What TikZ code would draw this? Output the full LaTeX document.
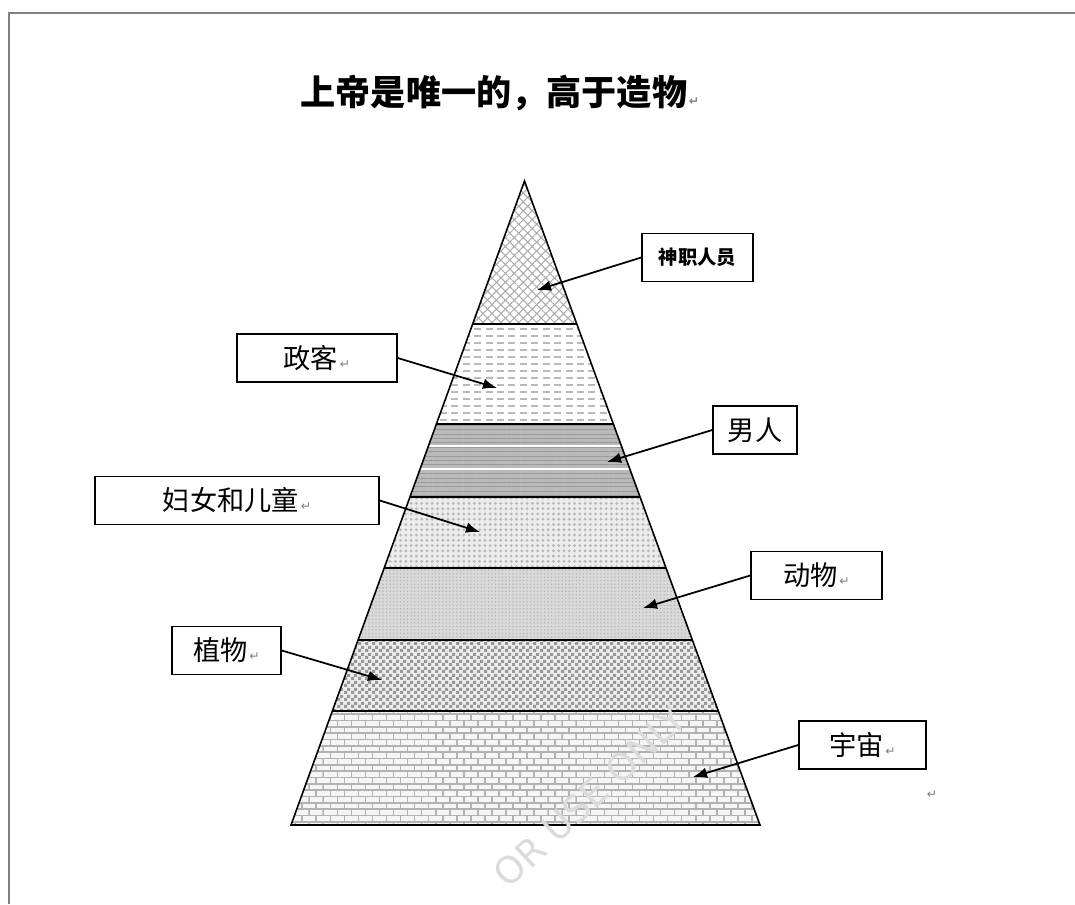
\documentclass[tikz,border=0pt]{standalone}
\usepackage{fontspec}
\usepackage{tikz}
\usetikzlibrary{patterns,patterns.meta,arrows.meta}

\newfontfamily\cjk{Noto Sans CJK SC}
\newfontfamily\symfont{DejaVu Sans}
\newcommand{\rmk}{{\symfont\fontsize{7}{7}\selectfont\color{gray}↵}}

\pgfdeclarepatternformonly{smallchecks}{\pgfpointorigin}{\pgfpoint{4pt}{4pt}}{\pgfpoint{4pt}{4pt}}{
    \pgfpathrectangle{\pgfpointorigin}{\pgfpoint{2pt}{2pt}}
    \pgfpathrectangle{\pgfpoint{2pt}{2pt}}{\pgfpoint{2pt}{2pt}}
    \pgfusepath{fill}
}

\pgfdeclarepatternformonly{smallbricks}{\pgfpoint{-0.5pt}{-0.5pt}}{\pgfpoint{8.5pt}{7.7pt}}{\pgfpoint{8pt}{7.2pt}}{
    \pgfsetlinewidth{0.9pt}
    \pgfpathmoveto{\pgfpoint{0pt}{0pt}}\pgfpathlineto{\pgfpoint{8pt}{0pt}}
    \pgfpathmoveto{\pgfpoint{0pt}{3.6pt}}\pgfpathlineto{\pgfpoint{8pt}{3.6pt}}
    \pgfpathmoveto{\pgfpoint{0pt}{0pt}}\pgfpathlineto{\pgfpoint{0pt}{3.6pt}}
    \pgfpathmoveto{\pgfpoint{4pt}{3.6pt}}\pgfpathlineto{\pgfpoint{4pt}{7.2pt}}
    \pgfusepath{stroke}
}

\tikzset{
    lbl/.style={draw, line width=0.9pt, minimum height=0.96cm, inner sep=0pt, font=\cjk\fontsize{15.5}{15.5}\selectfont},
    ptr/.style={-{Latex[length=8pt,width=6pt]}, line width=1pt},
    divide/.style={line width=1pt}
}

\begin{document}
\begin{tikzpicture}[x=0.02cm, y=-0.02cm]

        \useasboundingbox (0,0) rectangle (1075,904);

        \draw[gray, line width=1.5pt] (9,904) -- (9,13) -- (1075,13);

        \node[font=\cjk\bfseries\fontsize{20}{20}\selectfont] (title) at (500,93) {上帝是唯一的，高于造物\kern1pt\rmk};

        \coordinate (apex) at (524.5,181);
        \coordinate (bl) at (291,825);
        \coordinate (br) at (760,825);

        \begin{scope}
            \clip (apex) -- (bl) -- (br) -- cycle;

            \fill[pattern={Hatch[angle=45,distance=3.6pt,line width=0.6pt]}, pattern color=gray!65] (280,181) rectangle (770,324);

            \foreach \y in {329,336,...,421} {
                \draw[gray!55, line width=1pt, dash pattern=on 4pt off 2.5pt] (280,\y) -- (770,\y);
            }

            \fill[gray!55] (280,424) rectangle (770,497);
            \fill[pattern={Lines[angle=0,distance=2.5pt,line width=0.5pt]}, pattern color=gray!80] (280,424) rectangle (770,497);
            \draw[white, line width=1.2pt] (280,446) -- (770,446);
            \draw[white, line width=1.2pt] (280,469) -- (770,469);

            \fill[gray!15] (280,497) rectangle (770,568);
            \fill[pattern={Dots[distance=3pt,radius=0.9pt]}, pattern color=gray!55] (280,497) rectangle (770,568);

            \fill[gray!30] (280,568) rectangle (770,640);
            \fill[pattern={Dots[distance=2pt,radius=0.45pt]}, pattern color=gray!60] (280,568) rectangle (770,640);

            \fill[gray!15] (280,640) rectangle (770,711);
            \fill[pattern=smallchecks, pattern color=gray!80] (280,640) rectangle (770,711);

            \fill[gray!8] (280,711) rectangle (770,830);
            \fill[pattern=smallbricks, pattern color=gray!60] (280,711) rectangle (770,830);

            \foreach \y in {324,424,497,568,640,711} {
                \draw[divide] (280,\y) -- (770,\y);
            }
        \end{scope}

        \draw[line width=0.9pt] (apex) -- (bl) -- (br) -- cycle;

        \node[lbl, minimum width=2.22cm, font=\cjk\bfseries\fontsize{11}{11}\selectfont] (shen) at (697.5,257.5) {神职人员};
        \node[lbl, minimum width=3.2cm] (zheng) at (317,358) {政客\kern1pt\rmk};
        \node[lbl, minimum width=1.68cm] (nan) at (755,430) {男人};
        \node[lbl, minimum width=5.68cm] (fu) at (237,500.5) {妇女和儿童\kern1pt\rmk};
        \node[lbl, minimum width=2.62cm] (dong) at (816.5,575.5) {动物\kern1pt\rmk};
        \node[lbl, minimum width=2.18cm] (zhi) at (226.5,650.5) {植物\kern1pt\rmk};
        \node[lbl, minimum width=2.54cm] (yu) at (862.5,745) {宇宙\kern1pt\rmk};

        \coordinate (tshen) at (537,290);
        \coordinate (tzheng) at (497,388);
        \coordinate (tnan) at (607,462);
        \coordinate (tfu) at (480,532);
        \coordinate (tdong) at (643,608);
        \coordinate (tzhi) at (382,680);
        \coordinate (tyu) at (693,777);

        \draw[ptr] (shen.west) -- (tshen);
        \draw[ptr] (zheng.east) -- (tzheng);
        \draw[ptr] (nan.west) -- (tnan);
        \draw[ptr] (fu.east) -- (tfu);
        \draw[ptr] (dong.west) -- (tdong);
        \draw[ptr] (zhi.east) -- (tzhi);
        \draw[ptr] (yu.west) -- (tyu);

        \node (mark) at (932,795) {\rmk};

        \node[rotate=43, text=gray!28, font=\symfont\fontsize{21}{21}\selectfont, inner sep=0pt] (wm) at (590,796) {OR USE ONLY};

\end{tikzpicture}
\end{document}
